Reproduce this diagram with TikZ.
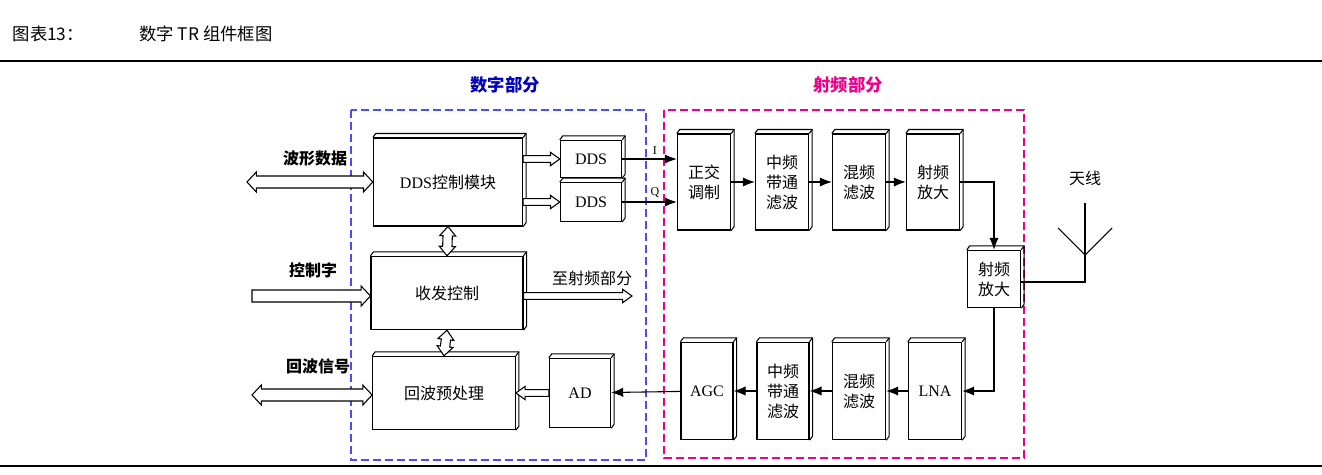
\documentclass[tikz,border=0pt]{standalone}
\usepackage{fontspec}
\setmainfont{Liberation Serif}
\newfontfamily\cjk{Noto Sans CJK SC}
\usetikzlibrary{arrows.meta,calc}
\newcommand\holA[4]{%
\path let \p1=($(#2)-(#1)$), \n1={veclen(\x1,\y1)}, \n2={atan2(\y1,\x1)} in
 [draw,thick,fill=white,shift={(#1)},rotate=\n2] (0pt,-#3) -- (\n1-7pt,-#3) -- (\n1-7pt,-#4) -- (\n1,0pt) -- (\n1-7pt,#4) -- (\n1-7pt,#3) -- (0pt,#3) -- cycle;}
\newcommand\holB[4]{%
\path let \p1=($(#2)-(#1)$), \n1={veclen(\x1,\y1)}, \n2={atan2(\y1,\x1)} in
 [draw,thick,fill=white,shift={(#1)},rotate=\n2] (7pt,-#3) -- (\n1-7pt,-#3) -- (\n1-7pt,-#4) -- (\n1,0pt) -- (\n1-7pt,#4) -- (\n1-7pt,#3) -- (7pt,#3) -- (7pt,#4) -- (0pt,0pt) -- (7pt,-#4) -- cycle;}
\begin{document}
\begin{tikzpicture}[x=0.75pt,y=-0.75pt,
  box/.style={draw,thick,fill=white,inner sep=0pt,align=center,font=\fontsize{12}{15}\selectfont},
  cbox/.style={box,font=\cjk\fontsize{12}{15}\selectfont},
  sig/.style={-{Latex[length=9pt,width=7pt]},thick},
  sec/.style={dashed,line width=1.3pt,dash pattern=on 6pt off 3pt},
  lab/.style={font=\cjk\bfseries\fontsize{12}{14}\selectfont}]
\useasboundingbox (0,0) rectangle (1322,475);
\node[anchor=west,font=\cjk\fontsize{13}{15}\selectfont] (title) at (8,34) {图表13：\hspace{3.2em}数字 TR 组件框图};
\draw[line width=2pt] (0,61) -- (1322,61);
\draw[thick] (0,466) -- (1322,466);
\draw[sec,blue!70!white] (351,110) rectangle (646,460);
\draw[sec,magenta] (664,110) rectangle (1024,458);
\node[font=\cjk\bfseries\fontsize{13}{15}\selectfont,text=blue!75!black] (ds) at (505,85) {数字部分};
\node[font=\cjk\bfseries\fontsize{13}{15}\selectfont,text=magenta] (rf) at (848,85) {射频部分};
\def\B#1#2#3#4#5#6{\node[box,minimum width=#4,minimum height=#5] (#1) at (#2,#3) {#6};}
\def\C#1#2#3#4#5#6{\node[cbox,minimum width=#4,minimum height=#5] (#1) at (#2,#3) {#6};}
\B{ddsc}{448}{182}{112pt}{66pt}{DDS{\cjk 控制模块}}
\B{dds1}{591}{159}{46pt}{28pt}{DDS}
\B{dds2}{591}{202}{46pt}{29pt}{DDS}
\C{sf}{447}{293}{114pt}{55pt}{收发控制}
\C{hb}{444}{393}{107pt}{55pt}{回波预处理}
\B{ad}{580}{393}{46pt}{52pt}{AD}
\C{zj}{704}{182}{40pt}{72pt}{正交\\调制}
\C{zp}{782}{182}{40pt}{72pt}{中频\\带通\\滤波}
\C{hp}{859}{182}{40pt}{72pt}{混频\\滤波}
\C{sp}{933}{182}{40pt}{72pt}{射频\\放大}
\C{sp2}{994}{279}{40pt}{43pt}{射频\\放大}
\B{agc}{707}{391}{39pt}{73pt}{AGC}
\C{zp2}{783}{391}{39pt}{73pt}{中频\\带通\\滤波}
\C{hp2}{859}{391}{40pt}{73pt}{混频\\滤波}
\B{lna}{935}{391}{40pt}{73pt}{LNA}
\foreach \n in {ddsc,dds1,dds2,sf,hb,ad,zj,zp,hp,sp,sp2,agc,zp2,hp2,lna}{
  \draw[thick] (\n.north west) -- ++(3,-4) -- ($(\n.north east)+(3,-4)$) -- ($(\n.south east)+(3,-4)$) -- (\n.south east);
  \draw[thick] (\n.north east) -- ++(3,-4);
}
\node[lab] (l1) at (315,158) {波形数据};
\node[lab] (l2) at (313,270) {控制字};
\node[lab] (l3) at (318,366) {回波信号};
\coordinate (a1) at (247,182);
\coordinate (a2) at (252,296);
\coordinate (a3) at (252,395);
\coordinate (a2e) at (sf.west |- a2);
\coordinate (a3e) at (hb.west |- a3);
\holB{a1}{ddsc.west}{4.5pt}{7.5pt}
\holA{a2}{a2e}{4.5pt}{7.5pt}
\holB{a3}{a3e}{4.5pt}{7.5pt}
\holB{ddsc.south}{sf.north}{3.5pt}{6pt}
\holB{sf.south}{hb.north}{3.5pt}{6pt}
\coordinate (d1s) at (ddsc.east |- dds1);
\coordinate (d2s) at (ddsc.east |- dds2);
\holA{d1s}{dds1.west}{2.5pt}{5pt}
\holA{d2s}{dds2.west}{2.5pt}{5pt}
\coordinate (tosf) at (632,296);
\coordinate (tos) at (sf.east |- tosf);
\holA{tos}{tosf}{2.5pt}{5pt}
\node[font=\cjk\fontsize{12}{14}\selectfont] (tl) at (592,278) {至射频部分};
\coordinate (hbe) at (hb.east |- ad.west);
\holA{ad.west}{hbe}{2.5pt}{5pt}
\draw[sig] (dds1.east) -- (zj.west |- dds1.east) node[pos=0.6,above,font=\fontsize{9}{10}\selectfont] {I};
\draw[sig] (dds2.east) -- (zj.west |- dds2.east) node[pos=0.6,above,font=\fontsize{9}{10}\selectfont] {Q};
\draw[sig] (zj) -- (zp);
\draw[sig] (zp) -- (hp);
\draw[sig] (hp) -- (sp);
\draw[sig] (sp.east) -| (sp2.north);
\draw[sig] (sp2.south) |- (lna.east);
\draw[sig] (lna) -- (hp2);
\draw[sig] (hp2) -- (zp2);
\draw[sig] (zp2) -- (agc);
\draw[sig] (agc) -- (ad);
\coordinate (ant) at (1085,255);
\coordinate (antb) at (1085,282);
\coordinate (antt) at (1085,203);
\coordinate (arl) at (1058,228);
\coordinate (arr) at (1112,228);
\draw[thick] (sp2.east |- antb) -- (antb) -- (antt);
\draw[thick] (arl) -- (ant) -- (arr);
\node[font=\cjk\fontsize{12}{14}\selectfont] (tx) at (1085,178) {天线};
\end{tikzpicture}
\end{document}
